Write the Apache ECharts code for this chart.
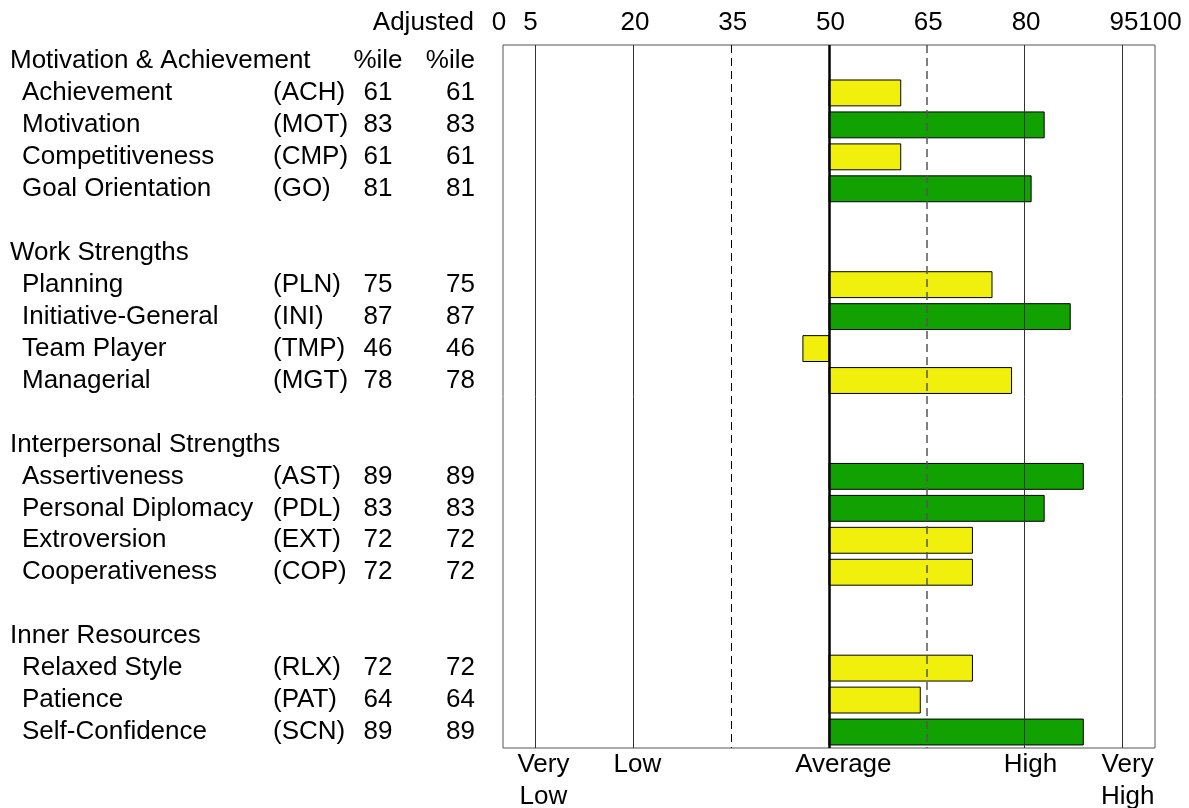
<!DOCTYPE html>
<html style="height: 100%">
<head>
	<meta charset="utf-8">
</head>
<body style="height: 100%; margin: 0; background: #fff">
<div id="container" style="height: 100%"></div>
<script type="text/javascript" src="https://cdn.jsdelivr.net/npm/echarts@6.0.0/dist/echarts.min.js"></script>
<script type="text/javascript">
    // groups of scales, in the order they appear
    var groupNames = ['Motivation & Achievement', 'Work Strengths', 'Interpersonal Strengths', 'Inner Resources'];
    var groupSizes = [4, 4, 4, 3];

    var scaleNames = ['Achievement', 'Motivation', 'Competitiveness', 'Goal Orientation',
        'Planning', 'Initiative-General', 'Team Player', 'Managerial',
        'Assertiveness', 'Personal Diplomacy', 'Extroversion', 'Cooperativeness',
        'Relaxed Style', 'Patience', 'Self-Confidence'];
    var scaleCodes = ['ACH', 'MOT', 'CMP', 'GO', 'PLN', 'INI', 'TMP', 'MGT',
        'AST', 'PDL', 'EXT', 'COP', 'RLX', 'PAT', 'SCN'];
    var adjustedPct = [61, 83, 61, 81, 75, 87, 46, 78, 89, 83, 72, 72, 72, 64, 89];
    var percentile = [61, 83, 61, 81, 75, 87, 46, 78, 89, 83, 72, 72, 72, 64, 89];

    var tickValues = [0, 5, 20, 35, 50, 65, 80, 95, 100];
    var zoneLabels = ['Very\nLow', 'Low', 'Average', 'High', 'Very\nHigh'];
    var zoneLabelAt = [6.2, 20.6, 52.2, 80.9, 95.8];

    var midpoint = 50;
    var highCut = 80;

    var YELLOW = '#f0f00c';
    var GREEN = '#11a100';
    var FONT = "'Liberation Sans', Arial, Helvetica, sans-serif";
    var FS = 26;

    // one row per slot: group header, scale rows, blank spacer
    var rows = [];
    var k = 0;
    groupNames.forEach(function (g, gi) {
        rows.push({type: 'group', name: g, first: gi === 0});
        for (var i = 0; i < groupSizes[gi]; i++) {
            rows.push({type: 'item', idx: k});
            k++;
        }
        if (gi < groupNames.length - 1) rows.push({type: 'blank'});
    });

    var barData = [];
    rows.forEach(function (r, i) {
        if (r.type === 'item') barData.push([i, adjustedPct[r.idx]]);
    });

    var dom = document.getElementById("container");
    var myChart = echarts.init(dom);

    function renderBar(params, api) {
        var cat = api.value(0);
        var v = api.value(1);
        var a = api.coord([midpoint, cat]);
        var b = api.coord([v, cat]);
        var h = api.size([0, 1])[1] * 0.81;
        return {
            type: 'rect',
            shape: {
                x: Math.min(a[0], b[0]),
                y: a[1] - h / 2,
                width: Math.abs(b[0] - a[0]),
                height: h
            },
            style: {
                fill: v >= highCut ? GREEN : YELLOW,
                stroke: '#000',
                lineWidth: 1
            }
        };
    }

    var labelRich = {
        grp: {fontSize: FS, fontFamily: FONT, color: '#000'},
        grp0: {fontSize: FS, fontFamily: FONT, color: '#000', width: 345},
        ind: {fontSize: FS, fontFamily: FONT, width: 12},
        nm: {fontSize: FS, fontFamily: FONT, color: '#000', width: 251, align: 'left'},
        cd: {fontSize: FS, fontFamily: FONT, color: '#000', width: 82, align: 'left'},
        a: {fontSize: FS, fontFamily: FONT, color: '#000', width: 46, align: 'center'},
        b: {fontSize: FS, fontFamily: FONT, color: '#000', width: 74, align: 'right'}
    };

    var option = {
        backgroundColor: '#fff',
        animation: false,
        textStyle: {fontFamily: FONT},
        graphic: [
            {
                type: 'text',
                x: 474,
                y: 23,
                silent: true,
                style: {
                    text: 'Adjusted',
                    fontSize: FS,
                    fontFamily: FONT,
                    fill: '#000',
                    align: 'right',
                    verticalAlign: 'middle'
                }
            }
        ],
        grid: {
            left: 503,
            right: 34,
            top: 45,
            bottom: 60,
            show: true,
            backgroundColor: '#fff',
            borderColor: '#555',
            borderWidth: 1,
            containLabel: false,
            outerBoundsMode: 'none'
        },
        xAxis: [
            {
                type: 'value',
                position: 'bottom',
                min: 0,
                max: 100,
                axisLine: {show: false},
                axisTick: {show: false},
                splitLine: {show: false},
                axisLabel: {
                    customValues: zoneLabelAt,
                    hideOverlap: false,
                    margin: 1,
                    fontSize: FS,
                    fontFamily: FONT,
                    color: '#000',
                    lineHeight: 32,
                    verticalAlign: 'top',
                    align: 'center',
                    formatter: function (v) {
                        var i = zoneLabelAt.indexOf(v);
                        return i >= 0 ? zoneLabels[i] : '';
                    }
                }
            },
            {
                type: 'value',
                position: 'top',
                min: 0,
                max: 100,
                axisLine: {show: false},
                axisTick: {show: false},
                splitLine: {show: false},
                axisLabel: {
                    customValues: tickValues,
                    showMinLabel: true,
                    showMaxLabel: true,
                    hideOverlap: false,
                    margin: 22,
                    fontSize: FS,
                    fontFamily: FONT,
                    color: '#000',
                    verticalAlign: 'middle',
                    formatter: function (v) {
                        if (v === 0) return '{t0|0}';
                        if (v === 5) return '{t5|5}';
                        if (v === 100) return '{t100|100}';
                        return '{t|' + v + '}';
                    },
                    rich: {
                        t: {fontSize: FS, fontFamily: FONT, color: '#000', padding: [0, 0, 0, 3]},
                        t0: {fontSize: FS, fontFamily: FONT, color: '#000', padding: [0, 8, 0, 0]},
                        t5: {fontSize: FS, fontFamily: FONT, color: '#000', padding: [0, 10, 0, 0]},
                        t100: {fontSize: FS, fontFamily: FONT, color: '#000', padding: [0, 0, 0, 10]}
                    }
                }
            }
        ],
        yAxis: {
            type: 'category',
            inverse: true,
            data: rows.map(function (r, i) { return String(i); }),
            axisLine: {show: false},
            axisTick: {show: false},
            splitLine: {show: false},
            axisLabel: {
                interval: 0,
                margin: 493,
                align: 'left',
                verticalAlign: 'middle',
                fontSize: FS,
                fontFamily: FONT,
                color: '#000',
                formatter: function (value, index) {
                    var r = rows[index];
                    if (!r || r.type === 'blank') return '';
                    if (r.type === 'group') {
                        if (r.first) return '{grp0|' + r.name + '}{a|%ile}{b|%ile}';
                        return '{grp|' + r.name + '}';
                    }
                    var j = r.idx;
                    return '{ind| }{nm|' + scaleNames[j] + '}{cd|(' + scaleCodes[j] + ')}' +
                        '{a|' + adjustedPct[j] + '}{b|' + percentile[j] + '}';
                },
                rich: labelRich
            }
        },
        series: [
            {
                type: 'custom',
                xAxisIndex: 1,
                z: 2,
                silent: true,
                renderItem: renderBar,
                encode: {x: 1, y: 0},
                data: barData
            },
            {
                type: 'line',
                xAxisIndex: 1,
                z: 5,
                silent: true,
                data: [],
                markLine: {
                    silent: true,
                    symbol: ['none', 'none'],
                    label: {show: false},
                    animation: false,
                    data: [
                        {xAxis: 5, lineStyle: {color: '#333', width: 1, type: 'solid'}},
                        {xAxis: 20, lineStyle: {color: '#333', width: 1, type: 'solid'}},
                        {xAxis: 35, lineStyle: {color: '#000', width: 1, type: [8, 5]}},
                        {xAxis: 50, lineStyle: {color: '#000', width: 2.5, type: 'solid'}},
                        {xAxis: 65, lineStyle: {color: '#555', width: 1.5, type: [8, 5]}},
                        {xAxis: 80, lineStyle: {color: '#333', width: 1, type: 'solid'}},
                        {xAxis: 95, lineStyle: {color: '#333', width: 1, type: 'solid'}}
                    ]
                }
            }
        ]
    };

    if (option && typeof option === "object") {
        myChart.setOption(option, true);
    }
    window.addEventListener('resize', function () {
        if (myChart != null && myChart != undefined) {
            myChart.resize();
        }
    });
</script>
</body>
</html>
